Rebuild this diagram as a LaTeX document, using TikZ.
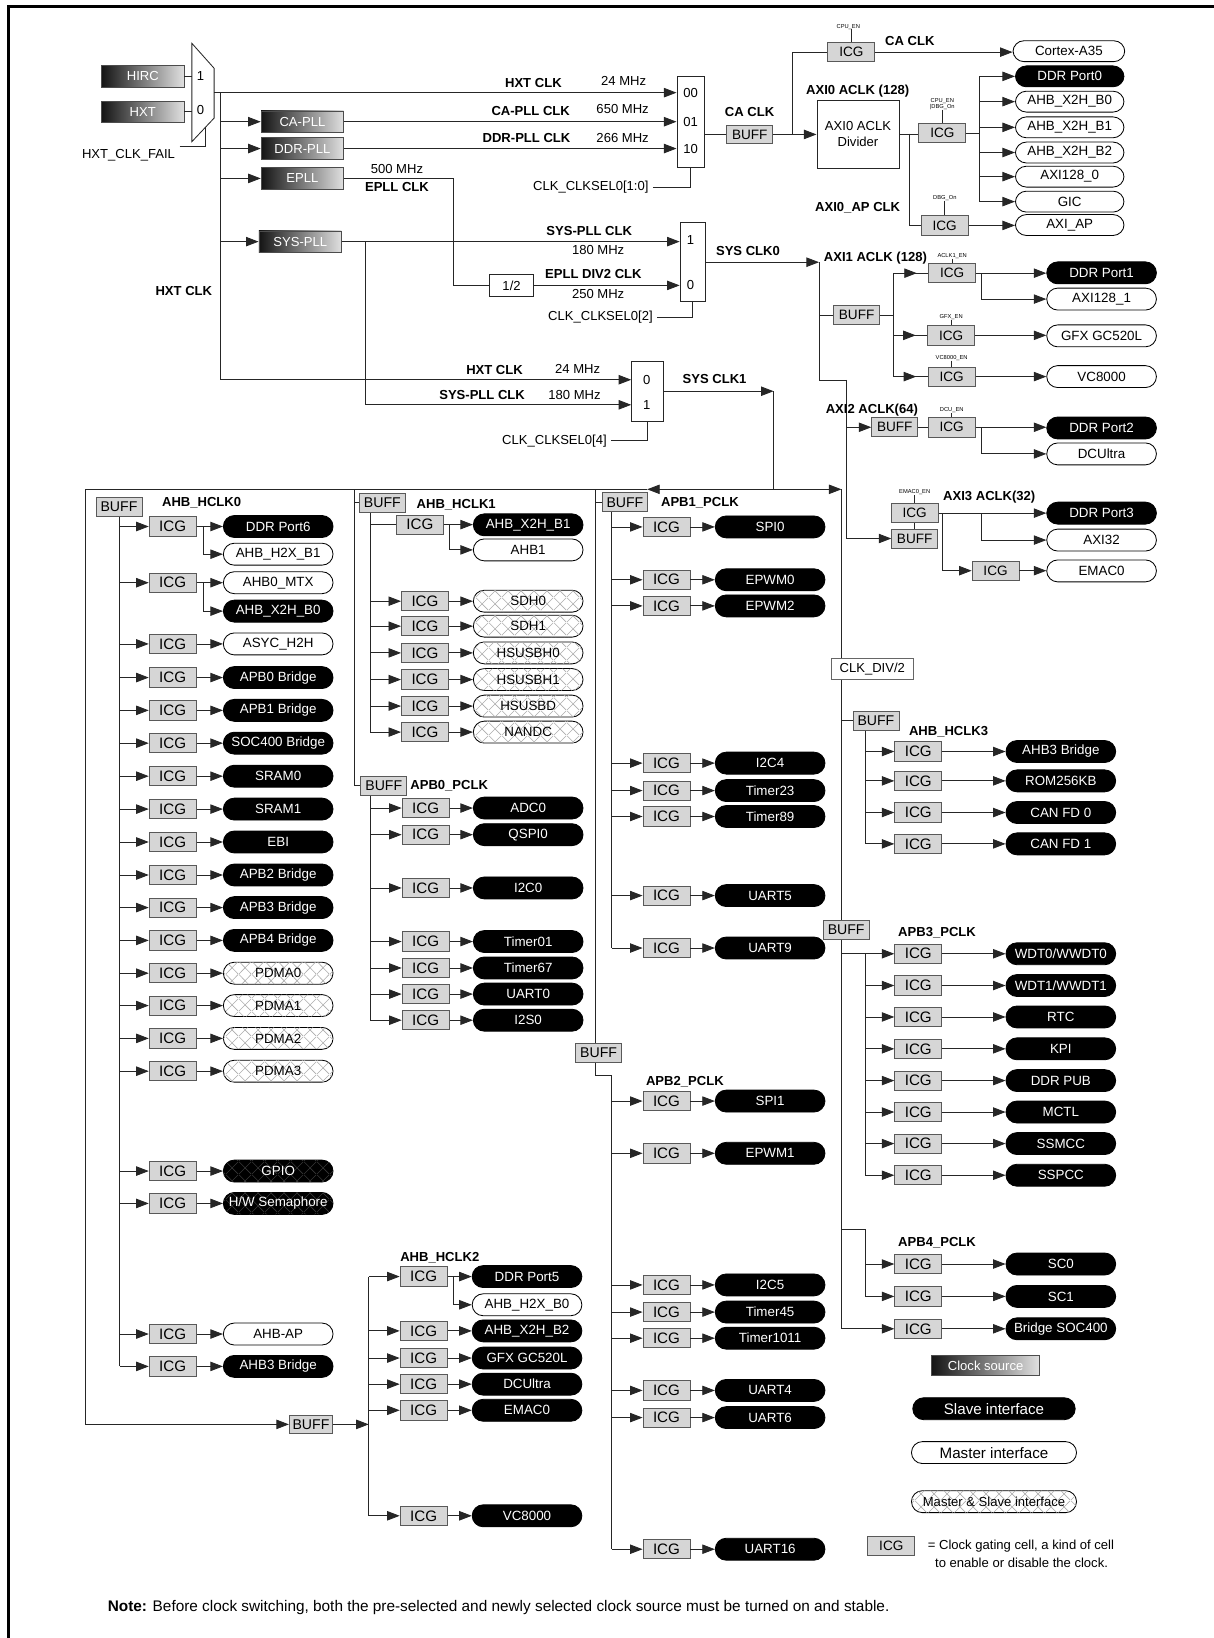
\documentclass[tikz,border=0pt]{standalone}
\usepackage{fontspec}
\setmainfont{Liberation Sans}
\usetikzlibrary{arrows.meta,patterns.meta,calc}
\pgfdeclarelayer{bg}
\pgfsetlayers{bg,main}
\tikzdeclarepattern{name=xh, type=uncolored, bounding box={(0pt,0pt) and (12pt,12pt)}, tile size={(12pt,12pt)},
  code={\draw[line width=0.6pt] (0pt,0pt) -- (12pt,12pt) (0pt,12pt) -- (12pt,0pt);}}
\newcommand\fsz[1]{\fontsize{#1}{#1}\selectfont}
\tikzset{
 ln/.style={draw=black!85, line width=0.8pt},
 arr/.style={ln, -{Triangle[length=12pt,width=9pt]}},
 bx/.style={draw=black!65, line width=0.8pt, inner sep=0pt},
 icg/.style={bx, fill=black!16, minimum width=45pt, minimum height=18.5pt, font=\fsz{14.5}},
 icgt/.style={icg, font=\fsz{13}},
 buf/.style={bx, fill=black!16, minimum width=44pt, minimum height=18pt, font=\fsz{13.5}},
 buft/.style={buf, font=\fsz{13}},
 slv/.style={draw=black, line width=0.8pt, fill=black, text=white, rounded corners=10.5pt, minimum width=105pt, minimum height=21pt, inner sep=0pt, font=\fsz{12.8}},
 mst/.style={slv, fill=white, text=black},
 msl/.style={mst, postaction={pattern=xh, pattern color=black!32}},
 dms/.style={slv, postaction={pattern=xh, pattern color=black!78}},
 src/.style={bx, draw=black!70, left color=black!92, right color=black!12, text=white, minimum width=79pt, minimum height=20.5pt, font=\fsz{12.5}},
 wbox/.style={bx, draw=black!85, fill=white, font=\fsz{12.5}},
 lbl/.style={inner sep=0pt, font=\bfseries\fsz{12.5}},
 txt/.style={inner sep=0pt, font=\fsz{12.5}},
 tiny/.style={inner sep=0pt, font=\fsz{5.5}},
}
\begin{document}
\begin{tikzpicture}[x=1pt,y=-1pt]
\path[use as bounding box] (0,0) rectangle (1162,1568);
\draw[line width=2.5pt] (8,1568) -- (8,6) -- (1162,6);

% ---------------- clock sources -----------------
\node[src] (hirc) at (136.7,73.2) {HIRC};
\node[src] (hxt) at (136.7,107) {HXT};
\draw[ln, fill=white] (183.7,41.5) -- (205,65.4) -- (205,113) -- (183.7,135.6) -- cycle;
\coordinate (m0L) at (183.7,0);
\coordinate (m0o) at (205,88.7);
\coordinate (m0s) at (196.5,121.5);
\coordinate (tr) at (210.6,88.7);
\node[txt] (m0a) at (192,73.2) {1};
\node[txt] (m0b) at (192,105) {0};
\node[txt] (fail) at (123,148.5) {HXT\_CLK\_FAIL};
\coordinate (failA) at (172,140);

\node[src] (capll) at (289.5,116.5) {CA-PLL};
\node[src] (ddrpll) at (289.5,142.2) {DDR-PLL};
\node[src] (epll) at (289.5,170.8) {EPLL};
\node[src] (syspll) at (287.4,231.3) {SYS-PLL};

\node[wbox, minimum width=26pt, minimum height=87.5pt] (m1) at (661,116.7) {};
\node[txt] (m1a) at (661,89.5) {00};
\node[txt] (m1b) at (661,116.5) {01};
\node[txt] (m1c) at (661,142.6) {10};
\node[wbox, minimum width=24pt, minimum height=75.7pt] (m2) at (663,251) {};
\node[txt] (m2a) at (661,229.5) {1};
\node[txt] (m2b) at (661,272.8) {0};
\node[wbox, minimum width=30.7pt, minimum height=57pt] (m3) at (620,374.5) {};
\node[txt] (m3a) at (619,363.5) {0};
\node[txt] (m3b) at (619,387.5) {1};
\node[wbox, minimum width=42pt, minimum height=20.5pt] (half) at (489.7,273.2) {1/2};

\node[txt, anchor=east] (sel1) at (621,179) {CLK\_CLKSEL0[1:0]};
\node[txt, anchor=east] (sel2) at (625,304) {CLK\_CLKSEL0[2]};
\node[txt, anchor=east] (sel3) at (581,422) {CLK\_CLKSEL0[4]};

\node[lbl] (l1) at (510.6,79) {HXT CLK};
\node[txt] (f1) at (597,77.5) {24 MHz};
\node[lbl] (l2) at (508,106) {CA-PLL CLK};
\node[txt] (f2) at (596,104) {650 MHz};
\node[lbl] (l3) at (504,132) {DDR-PLL CLK};
\node[txt] (f3) at (596,132) {266 MHz};
\node[txt] (f4) at (380,161.7) {500 MHz};
\node[lbl] (l4) at (380,179.3) {EPLL CLK};
\node[lbl] (l5) at (564,221) {SYS-PLL CLK};
\node[txt] (f5) at (572.6,239.5) {180 MHz};
\node[lbl] (l6) at (568,262) {EPLL DIV2 CLK};
\node[txt] (f6) at (572.6,281) {250 MHz};
\node[lbl] (l7) at (176,279) {HXT CLK};
\node[lbl] (l8) at (473.4,354) {HXT CLK};
\node[txt] (f8) at (553,353) {24 MHz};
\node[lbl] (l9) at (461.5,378) {SYS-PLL CLK};
\node[txt] (f9) at (550,378) {180 MHz};

\draw[ln] (hirc.east) -- (hirc.east -| m0L);
\draw[ln] (hxt.east) -- (hxt.east -| m0L);
\draw[ln] (failA) -| (m0s);
\draw[arr] (m0o) -- (m0o -| m1.west);
\draw[arr] (tr) |- (m3.west |- m3a);
\foreach \n in {capll,ddrpll,epll,syspll} \draw[arr] (tr |- \n) -- (\n.west);
\draw[arr] (capll.east) -- (capll.east -| m1.west);
\draw[arr] (ddrpll.east) -- (ddrpll.east -| m1.west);
\coordinate (ep) at (433.7,0);
\draw[ln] (epll.east) -| (ep |- half) -- (half.west);
\draw[arr] (half.east) -- (half.east -| m2.west);
\draw[arr] (syspll.east) -- (syspll.east -| m2.west);
\coordinate (sp) at (349.5,231.3);
\draw[arr] (sp) |- (m3.west |- m3b);
\draw[ln] ([xshift=4pt]sel1.east) -| (m1.south);
\draw[ln] ([xshift=4pt]sel2.east) -| (m2.south);
\draw[ln] ([xshift=4pt]sel3.east) -| (m3.south);

% ---------------- AXI0 -----------------
\node[buft] (cabuf) at (717.7,128.7) {BUFF};
\node[wbox, minimum width=78.6pt, minimum height=65pt, align=center, font=\fontsize{12.5}{15}\selectfont] (div) at (821.3,128.3) {AXI0 ACLK\\Divider};
\node[icgt] (icgca) at (815,49.9) {ICG};
\node[mst, minimum width=107pt, minimum height=20pt] (a35) at (1023.2,49) {Cortex-A35};
\node[icgt] (icg0) at (902.1,127.5) {ICG};
\node[icgt] (icgap) at (904.3,215.8) {ICG};
\node[slv, minimum width=104pt, minimum height=20pt] (ddr0) at (1024,73.1) {DDR Port0};
\foreach \yy/\lab/\nm in {97.3/AHB\_X2H\_B0/x0, 121.9/AHB\_X2H\_B1/x1, 146/AHB\_X2H\_B2/x2, 169.1/AXI128\_0/a0, 193/GIC/gic, 215.4/AXI\_AP/axap}
  \node[mst, minimum width=104pt, minimum height=20pt] (\nm) at (1024,\yy) {\lab};
\node[tiny] (cpuen) at (812,25.5) {CPU\_EN};
\node[tiny, align=center] (cpudbg) at (902,99.5) {CPU\_EN\\|DBG\_On};
\node[tiny] (dbgon) at (904.5,189.5) {DBG\_On};
\node[lbl] (lca1) at (717.5,107) {CA CLK};
\node[lbl] (lca2) at (871,39) {CA CLK};
\node[lbl] (lax0) at (821,86.8) {AXI0 ACLK (128)};
\node[lbl] (lap) at (821,199) {AXI0\_AP CLK};

\draw[ln] (m1.east |- cabuf) -- (cabuf.west);
\coordinate (caj) at (758.6,128.7);
\draw[ln] (cabuf.east) -- (caj);
\draw[arr] (caj) -- (caj -| div.west);
\draw[ln] (caj) |- (icgca.west);
\draw[arr] (icgca.east) -- (icgca.east -| a35.west);
\draw[ln] (cpuen.south -| icgca.north) -- (icgca.north);
\coordinate (dj) at (871,128);
\draw[ln] (div.east) -- (div.east -| icg0.west);
\draw[ln] (dj) |- (icgap.west);
\coordinate (b0) at (938,0);
\draw[ln] (icg0.east) -- (icg0.east -| b0);
\draw[ln] (b0 |- ddr0) -- (b0 |- gic);
\foreach \n in {ddr0,x0,x1,x2,a0,gic} \draw[arr] (b0 |- \n) -- (\n.west);
\draw[arr] (icgap.east) -- (icgap.east -| axap.west);
\draw[ln] (cpudbg.south -| icg0.north) -- (icg0.north);
\draw[ln] (dbgon.south -| icgap.north) -- (icgap.north);

% ---------------- AXI1..3 -----------------
\node[buft] (ax1buf) at (820,301.5) {BUFF};
\node[icgt] (ia1) at (911.5,261.5) {ICG};
\node[icgt] (ig) at (910.5,321) {ICG};
\node[icgt] (iv) at (911,360.5) {ICG};
\node[slv] (ddrp1) at (1054.5,261.2) {DDR Port1};
\node[mst] (axi1281) at (1054.5,286.3) {AXI128\_1};
\node[mst] (gfx) at (1054.5,321.5) {GFX GC520L};
\node[mst] (vc) at (1054.5,360.5) {VC8000};
\node[buft] (ax2buf) at (856.5,409) {BUFF};
\node[icgt] (ia2) at (911,409) {ICG};
\node[slv] (ddrp2) at (1054.5,409.7) {DDR Port2};
\node[mst] (dcu) at (1054.5,434.5) {DCUltra};
\node[icgt] (ia3) at (875.6,491.2) {ICG};
\node[buft] (ax3buf) at (875.6,515.5) {BUFF};
\node[slv] (ddrp3) at (1054.5,491.2) {DDR Port3};
\node[mst] (axi32) at (1054.5,517) {AXI32};
\node[icgt] (iem) at (953,546.3) {ICG};
\node[mst] (emac) at (1054.5,546.5) {EMAC0};
\node[tiny] (en1) at (911.5,245) {ACLK1\_EN};
\node[tiny] (en2) at (910.5,303.5) {GFX\_EN};
\node[tiny] (en3) at (911,342.5) {VC8000\_EN};
\node[tiny] (en4) at (911,393) {DCU\_EN};
\node[tiny] (en5) at (875.6,471.5) {EMAC0\_EN};
\node[lbl] (ls0) at (716,240) {SYS CLK0};
\node[lbl] (lax1) at (838,247.5) {AXI1 ACLK (128)};
\node[lbl] (lax2) at (834.6,392.5) {AXI2 ACLK(64)};
\node[lbl] (lax3) at (947,475.7) {AXI3 ACLK(32)};
\node[lbl] (ls1) at (684,363) {SYS CLK1};

\coordinate (s0) at (784,251);
\coordinate (a2) at (810.5,363.7);
\draw[arr] (m2.east) -- (s0);
\begin{pgfonlayer}{bg}
\draw[ln] (s0) |- (a2);
\draw[arr] (a2) |- (ax3buf.west);
\end{pgfonlayer}
\draw[ln] (s0 |- ax1buf) -- (ax1buf.west);
\coordinate (b1) at (855.4,0);
\draw[ln] (ax1buf.east) -- (ax1buf.east -| b1);
\draw[ln] (b1 |- ia1) -- (b1 |- iv);
\foreach \n in {ia1,ig,iv} {\draw[ln] (b1 |- \n) -- (\n.west); \draw[arr] (b1 |- \n) -- ([xshift=-11pt]\n.west);}
\coordinate (br1) at (939,0);
\draw[arr] (ia1.east) -- (ia1.east -| ddrp1.west);
\draw[arr] (ia1.east -| br1) |- (axi1281.west);
\draw[arr] (ig.east) -- (ig.east -| gfx.west);
\draw[arr] (iv.east) -- (iv.east -| vc.west);
\draw[arr] (a2 |- ax2buf) -- (ax2buf.west);
\draw[ln] (ax2buf.east) -- (ia2.west);
\draw[arr] (ia2.east) -- (ia2.east -| ddrp2.west);
\draw[arr] (ia2.east -| br1) |- (dcu.west);
\draw[ln] (ia3.south) -- (ax3buf.north);
\draw[arr] (ia3.east) -- (ia3.east -| ddrp3.west);
\draw[arr] (ia3.east -| br1) |- (axi32.west);
\coordinate (br3) at (902,0);
\draw[arr] (ia3.east -| br3) |- (iem.west);
\draw[arr] (iem.east) -- (iem.east -| emac.west);
\foreach \e/\n in {en1/ia1,en2/ig,en3/iv,en4/ia2,en5/ia3} \draw[ln, line width=0.5pt] (\e.south -| \n.north) -- (\n.north);

% ---------------- SYS CLK1 distribution -----------------
\coordinate (s1) at (740.5,374.5);
\coordinate (hl) at (740.5,468.4);
\coordinate (lt) at (619.5,468.4);
\coordinate (fl) at (81.5,468.4);
\coordinate (fr) at (805.5,468.4);
\coordinate (cB) at (338.8,468.4);
\coordinate (cC) at (569.6,468.4);
\draw[arr] (m3.east) -- (s1);
\draw[ln] (s1) -- (hl);
\draw[arr] (hl) -- (fr);
\draw[arr] (hl) -- (lt);
\draw[ln] (lt) -- (fl);

% column A : AHB_HCLK0
\node[buf] (h0buf) at (113.9,485.4) {BUFF};
\node[lbl] (lh0) at (193,481.7) {AHB\_HCLK0};
\coordinate (bA) at (114.5,0);
\foreach \yy/\lab/\sty [count=\i] in {504/DDR Port6/slv, 557.8/AHB0\_MTX/mst, 616.4/ASYC\_H2H/mst, 648.6/APB0 Bridge/slv, 680/APB1 Bridge/slv, 711.4/SOC400 Bridge/slv, 743/SRAM0/slv, 774.5/SRAM1/slv, 806/EBI/slv, 837.6/APB2 Bridge/slv, 868.8/APB3 Bridge/slv, 900.2/APB4 Bridge/slv, 931.6/PDMA0/msl, 962.6/PDMA1/msl, 994/PDMA2/msl, 1025.4/PDMA3/msl, 1121/GPIO/dms, 1152/{H/W Semaphore}/dms, 1277/AHB-AP/mst, 1308/AHB3 Bridge/slv}
{
 \node[icg] (ia\i) at (165.3,\yy) {ICG};
 \node[\sty] (sa\i) at (266.3,\yy) {\lab};
 \draw[arr] (bA |- ia\i) -- (ia\i.west);
 \draw[arr] (ia\i.east) -- (sa\i.west);
}
\node[mst] (sa1b) at (266.3,530.5) {AHB\_H2X\_B1};
\node[slv] (sa2b) at (266.3,585) {AHB\_X2H\_B0};
\draw[arr] ([xshift=6.8pt]ia1.east) |- (sa1b.west);
\draw[arr] ([xshift=6.8pt]ia2.east) |- (sa2b.west);
\draw[ln] (h0buf.south -| bA) -- (bA |- ia20);

% column B : AHB_HCLK1 / APB0
\node[buf] (h1buf) at (366,481.4) {BUFF};
\node[lbl] (lh1) at (436.7,482.7) {AHB\_HCLK1};
\coordinate (bB) at (354.6,0);
\node[icg] (ib1) at (402,502.2) {ICG};
\node[slv] (sb1) at (505.6,502.4) {AHB\_X2H\_B1};
\node[mst] (sb1b) at (505.6,526.4) {AHB1};
\draw[ln] (bB |- ib1) -- (ib1.west);
\draw[arr] (ib1.east) -- (ib1.east -| sb1.west);
\draw[arr] ([xshift=5.5pt]ib1.east) |- (sb1b.west);
\foreach \yy/\lab [count=\i from 2] in {575.5/SDH0, 599.4/SDH1, 625/HSUSBH0, 650.5/HSUSBH1, 675.9/HSUSBD, 700.8/NANDC}
{
 \node[icg] (ib\i) at (406.8,\yy) {ICG};
 \node[msl] (sb\i) at (505.6,\yy) {\lab};
 \draw[arr] (bB |- ib\i) -- (ib\i.west);
 \draw[arr] (ib\i.east) -- (sb\i.west);
}
\draw[ln] (h1buf.south -| bB) -- (bB |- ib7);
\draw[ln] (cB |- h1buf) -- (h1buf.west);

\node[buf] (p0buf) at (367.4,752.2) {BUFF};
\node[lbl] (lp0) at (430,752.5) {APB0\_PCLK};
\foreach \yy/\lab [count=\i] in {773.5/ADC0, 799/QSPI0, 850/I2C0, 901.3/Timer01, 926.6/Timer67, 951.6/UART0, 976.6/I2S0}
{
 \node[icg] (ic\i) at (407.4,\yy) {ICG};
 \node[slv] (sc\i) at (505.6,\yy) {\lab};
 \draw[arr] (bB |- ic\i) -- (ic\i.west);
 \draw[arr] (ic\i.east) -- (sc\i.west);
}
\draw[ln] (p0buf.south -| bB) -- (bB |- ic7);
\draw[ln] (cB) |- (p0buf.west);

% column C : APB1 / APB2
\node[buf] (p1buf) at (598.2,480.8) {BUFF};
\node[lbl] (lp1) at (670,481.7) {APB1\_PCLK};
\coordinate (bC) at (585.5,0);
\foreach \yy/\lab [count=\i] in {504.4/SPI0, 555/EPWM0, 580/EPWM2, 730.5/I2C4, 756.8/Timer23, 781.6/Timer89, 857.3/UART5, 907.5/UART9}
{
 \node[icg] (id\i) at (638,\yy) {ICG};
 \node[slv] (sd\i) at (737.2,\yy) {\lab};
 \draw[arr] (bC |- id\i) -- (id\i.west);
 \draw[arr] (id\i.east) -- (sd\i.west);
}
\draw[ln] (p1buf.south -| bC) -- (bC |- id8);
\draw[ln] (cC |- p1buf) -- (p1buf.west);

\node[buf] (p2buf) at (573,1008) {BUFF};
\node[lbl] (lp2) at (655.6,1035.3) {APB2\_PCLK};
\foreach \yy/\lab [count=\i] in {1054/SPI1, 1104/EPWM1, 1230/I2C5, 1256/Timer45, 1281/Timer1011, 1331/UART4, 1357/UART6, 1483/UART16}
{
 \node[icg] (ie\i) at (638,\yy) {ICG};
 \node[slv] (se\i) at (737.2,\yy) {\lab};
 \draw[arr] (bC |- ie\i) -- (ie\i.west);
 \draw[arr] (ie\i.east) -- (se\i.west);
}
\coordinate (p2j) at (569.6,1029);
\draw[ln] (cC) -- (cC |- p2buf.north);
\draw[ln] (p2buf.south -| p2j) -- (p2j) -- (p2j -| bC) -- (bC |- ie8);

% AHB_HCLK2
\node[buf, minimum width=41.5pt, minimum height=17.5pt] (h2buf) at (297.7,1363.5) {BUFF};
\node[lbl] (lh2) at (421,1204) {AHB\_HCLK2};
\coordinate (bH) at (353,0);
\foreach \yy/\lab [count=\i] in {1222/DDR Port5, 1274/AHB\_X2H\_B2, 1300/GFX GC520L, 1325/DCUltra, 1350/EMAC0, 1451/VC8000}
{
 \node[icg] (ih\i) at (405.5,\yy) {ICG};
 \node[slv] (sh\i) at (504.5,\yy) {\lab};
 \draw[arr] (bH |- ih\i) -- (ih\i.west);
 \draw[arr] (ih\i.east) -- (sh\i.west);
}
\node[mst] (sh1b) at (504.5,1249) {AHB\_H2X\_B0};
\draw[arr] ([xshift=6pt]ih1.east) |- (sh1b.west);
\draw[ln] (bH |- ih1) -- (bH |- ih6);
\draw[arr] (h2buf.east) -- (h2buf.east -| bH);
\draw[arr] (fl) |- (h2buf.west);

% right column : CLK_DIV/2
\coordinate (bR) at (828.4,0);
\node[buf] (h3buf) at (838.5,690) {BUFF};
\node[lbl] (lh3) at (908,700) {AHB\_HCLK3};
\foreach \yy/\lab [count=\i] in {719.4/AHB3 Bridge, 747.5/ROM256KB, 777.8/CAN FD 0, 807.8/CAN FD 1}
{
 \node[icg] (if\i) at (879,\yy) {ICG};
 \node[slv] (sf\i) at (1015.5,\yy) {\lab};
 \draw[arr] (bR |- if\i) -- (if\i.west);
 \draw[arr] (if\i.east) -- (sf\i.west);
}
\draw[ln] (h3buf.south -| bR) -- (bR |- if4);
\draw[ln] (fr |- h3buf) -- (h3buf.west);

\node[lbl] (lp3) at (897,893) {APB3\_PCLK};
\foreach \yy/\lab [count=\i] in {913/{WDT0/WWDT0}, 943.4/{WDT1/WWDT1}, 973.5/RTC, 1004/KPI, 1034.4/DDR PUB, 1064.5/MCTL, 1094.7/SSMCC, 1125/SSPCC}
{
 \node[icg] (ig\i) at (879,\yy) {ICG};
 \node[slv] (sg\i) at (1015.5,\yy) {\lab};
 \draw[arr] (bR |- ig\i) -- (ig\i.west);
 \draw[arr] (ig\i.east) -- (sg\i.west);
}
\draw[ln] (fr |- ig1) -- (bR |- ig1) -- (bR |- ig8);

\node[lbl] (lp4) at (897,1190) {APB4\_PCLK};
\foreach \yy/\lab [count=\i] in {1210/SC0, 1241/SC1, 1272/Bridge SOC400}
{
 \node[icg] (ik\i) at (879,\yy) {ICG};
 \node[slv] (sk\i) at (1015.5,\yy) {\lab};
 \draw[arr] (ik\i.east) -- (sk\i.west);
}
\coordinate (a4) at (805.5,1177);
\draw[ln] (a4) -- (a4 -| bR) -- (bR |- ik2);
\draw[arr] (bR |- ik1) -- (ik1.west);
\draw[arr] (bR |- ik2) -- (ik2.west);
\begin{pgfonlayer}{bg}
\draw[arr] (fr) |- (ik3.west);
\end{pgfonlayer}
\node[wbox, draw=black!60, minimum width=78pt, minimum height=20.5pt] (cdiv) at (835,640.5) {CLK\_DIV/2};
\node[buf] (a3buf) at (810,890) {BUFF};

% ---------------- legend -----------------
\node[src, minimum width=103pt, minimum height=19pt] (lcs) at (943.5,1307) {Clock source};
\node[slv, minimum width=155.5pt, font=\fsz{14.5}] (lsl) at (951.5,1348.5) {Slave interface};
\node[mst, minimum width=158pt, font=\fsz{14.5}] (lms) at (951.5,1390.5) {Master interface};
\node[msl, minimum width=158pt, font=\fsz{12.5}] (lmsl) at (951.5,1437.5) {Master \& Slave interface};
\node[icg, font=\fsz{13}] (licg) at (853.2,1480) {ICG};
\node[txt, anchor=west] (ld1) at (888,1480.5) {= Clock gating cell, a kind of cell};
\node[txt, anchor=west] (ld2) at (895,1496.5) {to enable or disable the clock.};
\node[txt, anchor=west, font=\fsz{14.7}] (note) at (103,1539) {\textbf{Note:} Before clock switching, both the pre-selected and newly selected clock source must be turned on and stable.};
\end{tikzpicture}
\end{document}
